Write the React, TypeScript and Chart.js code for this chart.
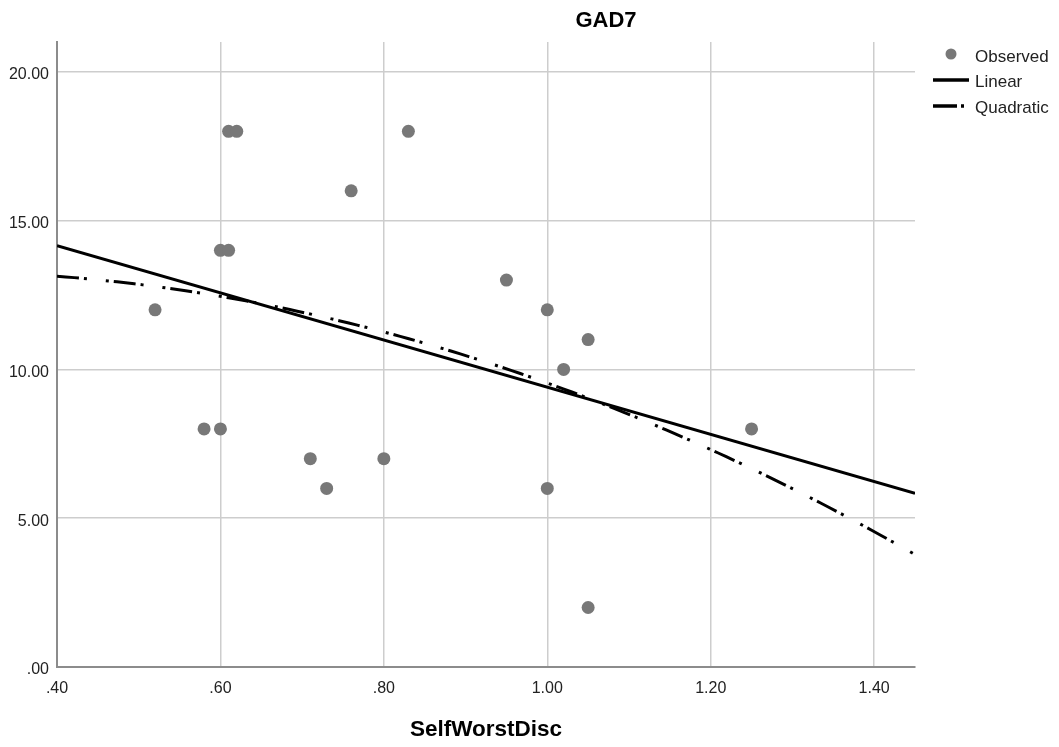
import React, { useEffect, useRef } from "react";
import { Chart, registerables } from "chart.js";

Chart.register(...registerables);

const selfWorstDisc = [0.52, 0.58, 0.6, 0.6, 0.61, 0.61, 0.62, 0.71, 0.73, 0.76, 0.8, 0.83, 0.95, 1.0, 1.0, 1.02, 1.05, 1.05, 1.25];
const gad7 = [12, 8, 8, 14, 14, 18, 18, 7, 6, 16, 7, 18, 13, 12, 6, 10, 11, 2, 8];
const xRange = [0.4, 1.45];
const yRange = [0, 21];
const legendLabels = ["Observed", "Linear", "Quadratic"];
const chartTitle = "GAD7";
const xTitle = "SelfWorstDisc";

const FONT = '"Liberation Sans", Arial, sans-serif';

function linearFit(xs: number[], ys: number[]) {
  const n = xs.length;
  const mx = xs.reduce((a, b) => a + b, 0) / n;
  const my = ys.reduce((a, b) => a + b, 0) / n;
  let sxy = 0, sxx = 0;
  for (let i = 0; i < n; i++) {
    sxy += (xs[i] - mx) * (ys[i] - my);
    sxx += (xs[i] - mx) ** 2;
  }
  const b = sxy / sxx;
  const a = my - b * mx;
  return (x: number) => a + b * x;
}

function quadFit(xs: number[], ys: number[]) {
  const S = [0, 0, 0, 0, 0];
  const T = [0, 0, 0];
  for (let i = 0; i < xs.length; i++) {
    for (let k = 0; k < 5; k++) S[k] += xs[i] ** k;
    for (let k = 0; k < 3; k++) T[k] += ys[i] * xs[i] ** k;
  }
  const M = [
    [S[0], S[1], S[2], T[0]],
    [S[1], S[2], S[3], T[1]],
    [S[2], S[3], S[4], T[2]],
  ];
  for (let c = 0; c < 3; c++) {
    for (let r = c + 1; r < 3; r++) {
      const f = M[r][c] / M[c][c];
      for (let k = c; k < 4; k++) M[r][k] -= f * M[c][k];
    }
  }
  const coef = [0, 0, 0];
  for (let r = 2; r >= 0; r--) {
    let s = M[r][3];
    for (let k = r + 1; k < 3; k++) s -= M[r][k] * coef[k];
    coef[r] = s / M[r][r];
  }
  return (x: number) => coef[0] + coef[1] * x + coef[2] * x * x;
}

const QUAD_DASH = [22, 5, 3, 19, 3, 5];

const decorPlugin = {
  id: "decor",
  afterDraw(chart: any) {
    const ctx = chart.ctx;
    const area = chart.chartArea;
    ctx.save();
    ctx.fillStyle = "#000";
    ctx.textAlign = "center";
    ctx.textBaseline = "middle";
    ctx.font = `bold 22px ${FONT}`;
    ctx.fillText(chartTitle, 598, 13);
    ctx.font = `bold 22.5px ${FONT}`;
    ctx.fillText(xTitle, (area.left + area.right) / 2, 722);

    // legend
    ctx.textAlign = "left";
    ctx.font = `17px ${FONT}`;
    ctx.fillStyle = "#787878";
    ctx.beginPath();
    ctx.arc(943, 46, 5.5, 0, Math.PI * 2);
    ctx.fill();
    ctx.fillStyle = "#222";
    ctx.fillText(legendLabels[0], 967, 49);

    ctx.strokeStyle = "#000";
    ctx.lineWidth = 3.5;
    ctx.beginPath();
    ctx.moveTo(925, 72);
    ctx.lineTo(961, 72);
    ctx.stroke();
    ctx.fillText(legendLabels[1], 967, 74);

    ctx.setLineDash([24, 4, 3, 100]);
    ctx.beginPath();
    ctx.moveTo(925, 98);
    ctx.lineTo(961, 98);
    ctx.stroke();
    ctx.setLineDash([]);
    ctx.fillText(legendLabels[2], 967, 100);
    ctx.restore();
  },
};

export default function App() {
  const ref = useRef<HTMLCanvasElement>(null);
  useEffect(() => {
    if (!ref.current) return;
    const lin = linearFit(selfWorstDisc, gad7);
    const quad = quadFit(selfWorstDisc, gad7);
    const linPts = xRange.map((x) => ({ x, y: lin(x) }));
    const quadPts: { x: number; y: number }[] = [];
    const steps = 100;
    for (let i = 0; i <= steps; i++) {
      const x = xRange[0] + ((xRange[1] - xRange[0]) * i) / steps;
      quadPts.push({ x, y: quad(x) });
    }
    const fmt = (v: any) => Number(v).toFixed(2).replace(/^0\./, ".");
    const chart = new Chart(ref.current, {
      type: "scatter",
      data: {
        datasets: [
          {
            label: legendLabels[0],
            data: selfWorstDisc.map((x, i) => ({ x, y: gad7[i] })),
            backgroundColor: "#787878",
            borderColor: "#787878",
            pointRadius: 6.5,
            pointBorderWidth: 0,
            order: 3,
          },
          {
            label: legendLabels[1],
            type: "line",
            data: linPts,
            borderColor: "#000",
            borderWidth: 3,
            pointRadius: 0,
            fill: false,
            order: 1,
          },
          {
            label: legendLabels[2],
            type: "line",
            data: quadPts,
            borderColor: "#000",
            borderWidth: 3,
            borderDash: QUAD_DASH,
            pointRadius: 0,
            fill: false,
            order: 2,
          },
        ] as any,
      },
      options: {
        animation: false,
        responsive: false,
        layout: { padding: { left: 0, right: 136, top: 34, bottom: 0 } },
        plugins: {
          legend: { display: false },
          title: { display: false },
          tooltip: { enabled: false },
        },
        scales: {
          x: {
            type: "linear",
            min: xRange[0],
            max: xRange[1],
            afterFit: (s: any) => {
              s.height = 72;
            },
            border: { color: "#8c8c8c", width: 2 },
            grid: { color: "#cdcdcd", lineWidth: 1.5, drawTicks: false },
            ticks: {
              stepSize: 0.2,
              includeBounds: false,
              padding: 12,
              color: "#222",
              font: { family: FONT, size: 16 },
              maxRotation: 0,
              callback: fmt,
            },
          },
          y: {
            type: "linear",
            min: yRange[0],
            max: yRange[1],
            afterFit: (s: any) => {
              s.width = 49;
            },
            border: { color: "#8c8c8c", width: 2 },
            grid: { color: "#cdcdcd", lineWidth: 1.5, drawTicks: false },
            ticks: {
              stepSize: 5,
              includeBounds: false,
              padding: 8,
              labelOffset: 3,
              color: "#222",
              font: { family: FONT, size: 16 },
              callback: fmt,
            },
          },
        },
      } as any,
      plugins: [decorPlugin],
    });
    return () => chart.destroy();
  }, []);
  return (
    <div style={{ width: 1043, height: 731 }}>
      <canvas ref={ref} width={1043} height={731} style={{ display: "block" }} />
    </div>
  );
}
